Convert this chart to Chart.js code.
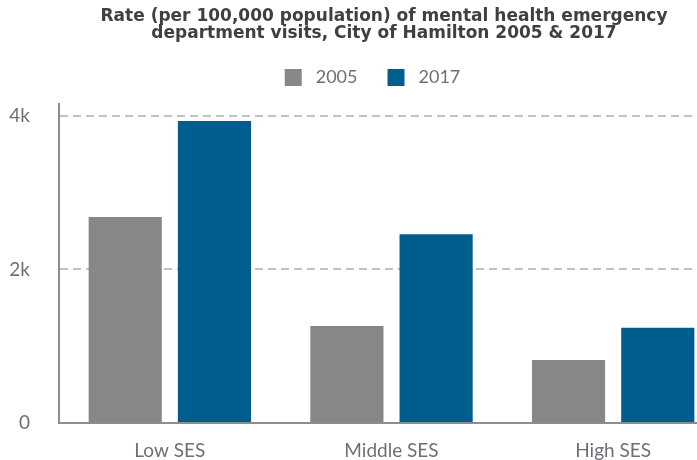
<!DOCTYPE html>
<html>
<head>
<meta charset="utf-8">
<script src="https://cdn.jsdelivr.net/npm/chart.js@4"></script>
<style>
    html, body { margin: 0; padding: 0; background: #fff; overflow: hidden; }
    #wrap { position: absolute; left: 0; top: 0; width: 724px; height: 460px; }
</style>
</head>
<body>
<div id="wrap"><canvas id="sesChart"></canvas></div>
<script>
// chart data
const categories = ['Low SES', 'Middle SES', 'High SES'];
const seriesNames = ['2005', '2017'];
const rates2005 = [2685, 1265, 820];
const rates2017 = [3935, 2460, 1240];
const yTickValues = [0, 2000, 4000];
const yTickLabels = ['0', '2k', '4k'];

const labelColor = '#6c7176';

// title and legend are not centred on the canvas (plot runs past the right edge)
const headerShift = {
    id: 'headerShift',
    afterLayout(chart) {
        chart.titleBlock.left = 0;
        chart.titleBlock.right = 768;
        chart.legend.left = 0;
        chart.legend.right = 740;
        chart.legend.top = 39;
    }
};

const ctx = document.getElementById('sesChart').getContext('2d');
const sesChart = new Chart(ctx, {
    type: 'bar',
    data: {
        labels: categories,
        datasets: [{
            label: seriesNames[0],
            data: rates2005,
            backgroundColor: '#878787',
            categoryPercentage: 0.805,
            barPercentage: 0.82
        }, {
            label: seriesNames[1],
            data: rates2017,
            backgroundColor: '#005e8f',
            categoryPercentage: 0.805,
            barPercentage: 0.82
        }]
    },
    plugins: [headerShift],
    options: {
        responsive: true,
        maintainAspectRatio: false,
        animation: false,
        layout: { padding: { top: 8, left: 0, right: 0, bottom: 0 } },
        plugins: {
            title: {
                display: true,
                text: ['Rate (per 100,000 population) of mental health emergency',
                       'department visits, City of Hamilton 2005 & 2017'],
                color: '#404040',
                font: { family: 'DejaVu Sans', size: 17, weight: 'bold', lineHeight: 1.0 },
                padding: { top: 0, bottom: 0 }
            },
            legend: {
                display: true,
                labels: {
                    color: labelColor,
                    font: { family: 'Lato', size: 18 },
                    // white outline trims the box to 17px and widens the gap to the text
                    boxWidth: 27,
                    boxHeight: 27,
                    padding: 25,
                    generateLabels(chart) {
                        const items = Chart.defaults.plugins.legend.labels.generateLabels(chart);
                        items.forEach(item => {
                            item.lineWidth = 10;
                            item.strokeStyle = '#ffffff';
                        });
                        return items;
                    }
                }
            },
            tooltip: { enabled: false }
        },
        scales: {
            x: {
                grid: { display: false, drawTicks: false },
                border: { display: true, color: '#8a8e92', width: 2 },
                ticks: {
                    color: labelColor,
                    font: { family: 'Lato', size: 19 },
                    padding: 16
                },
                afterFit(scale) { scale.height = 37; }
            },
            y: {
                min: 0,
                max: 4156,
                afterBuildTicks(scale) {
                    scale.ticks = yTickValues.map(v => ({ value: v }));
                },
                grid: {
                    drawTicks: true,
                    tickLength: 29,
                    tickColor: 'rgba(0,0,0,0)',
                    color: c => (c.tick && c.tick.value === 0) ? 'rgba(0,0,0,0)' : '#c0c2c5',
                    lineWidth: 2
                },
                border: { display: true, color: '#8a8e92', width: 2, dash: [8, 5] },
                ticks: {
                    color: labelColor,
                    font: { family: 'Lato', size: 19 },
                    padding: 0,
                    callback: (value) => yTickLabels[yTickValues.indexOf(value)]
                },
                afterFit(scale) { scale.width = 59; }
            }
        }
    }
});
</script>
</body>
</html>
